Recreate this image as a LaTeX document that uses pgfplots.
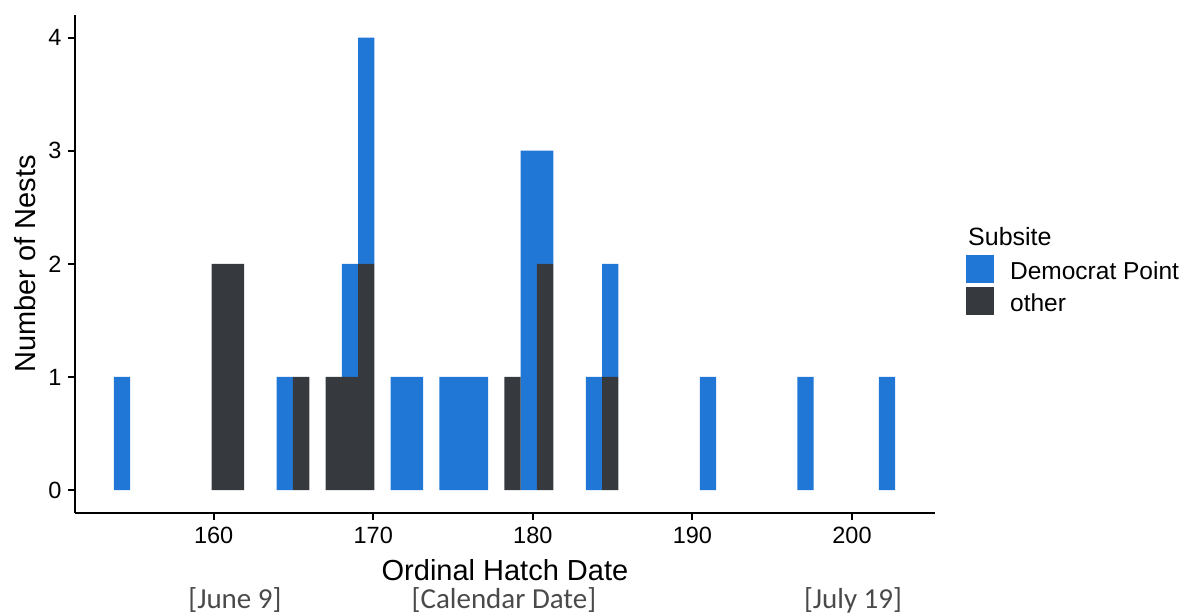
\documentclass[border=0pt]{standalone}
\usepackage{pgfplots}
\usepackage{pgfplotstable}
\pgfplotsset{compat=1.18}
\usepackage{fontspec}
\setmainfont{Liberation Sans}
\newfontfamily\carl{Carlito}
\definecolor{dpblue}{HTML}{2177D5}
\definecolor{othdark}{HTML}{36393D}
\definecolor{brgray}{HTML}{4A4A4A}

\pgfplotstableread{
x other dp
154.26 0 1
160.38 2 0
161.40 2 0
164.46 0 1
165.48 1 0
167.52 1 0
168.54 1 1
169.56 2 2
171.60 0 1
172.61 0 1
174.65 0 1
175.67 0 1
176.69 0 1
178.73 1 0
179.75 0 3
180.77 2 1
183.83 0 1
184.85 1 1
190.97 0 1
197.09 0 1
202.19 0 1
}\hist

\begin{document}
\begin{tikzpicture}
\begin{axis}[
  scale only axis,
  width=860pt, height=497.7pt,
  xmin=151.31, xmax=205.2,
  ymin=-0.2, ymax=4.2,
  enlargelimits=false,
  clip=false,
  axis lines=left,
  axis line style={line width=2pt, -},
  xtick={160,170,180,190,200},
  ytick={0,1,2,3,4},
  tick style={line width=2pt, black},
  tick align=outside,
  major tick length=7pt,
  /pgf/number format/assume math mode=true,
  /pgf/number format/1000 sep={},
  tick label style={font=\fontsize{23.5}{23.5}\selectfont, text=black},
  xticklabel style={yshift=-4pt},
  yticklabel style={xshift=-3pt},
  xlabel={Ordinal Hatch Date},
  ylabel={Number of Nests},
  label style={font=\fontsize{29}{29}\selectfont},
  xlabel style={at={(axis description cs:0.5,-0.115)}, anchor=center},
  ylabel style={at={(axis description cs:-0.058,0.5)}, anchor=center, rotate=0},
  ybar stacked,
  bar width=1.0197,
  legend image code/.code={\fill[#1] (0pt,-12pt) rectangle (28pt,16pt);},
  legend style={at={(rel axis cs:1.036,0.518)}, anchor=north west, draw=none, fill=none,
    inner sep=0pt, row sep=4pt, font=\fontsize{24.5}{24.5}\selectfont,
    nodes={inner sep=0pt},
    /tikz/every odd column/.append style={column sep=16pt}},
  legend cell align=left,
]
\addlegendimage{fill=dpblue, draw=none}
\addlegendentry{Democrat Point}
\addlegendimage{fill=othdark, draw=none}
\addlegendentry{other}
\addplot[fill=othdark, draw=none, forget plot] table[x=x, y=other] {\hist};
\addplot[fill=dpblue, draw=none, forget plot] table[x=x, y=dp] {\hist};

\node[anchor=west, font=\fontsize{25}{25}\selectfont, inner sep=0pt] at (rel axis cs:1.0384,0.554) {Subsite};

\node[font=\carl\fontsize{29}{29}\selectfont, text=brgray, inner sep=0pt] at (rel axis cs:0.186,-0.1754) {[June 9]};
\node[font=\carl\fontsize{29}{29}\selectfont, text=brgray, inner sep=0pt] at (rel axis cs:0.4988,-0.1754) {[Calendar Date]};
\node[font=\carl\fontsize{29}{29}\selectfont, text=brgray, inner sep=0pt] at (rel axis cs:0.9047,-0.1754) {[July 19]};

\coordinate (bbSW) at (rel axis cs:-0.0872,-0.2055);
\coordinate (bbNE) at (rel axis cs:1.2919,1.0301);
\end{axis}
\pgfresetboundingbox
\path[use as bounding box] (bbSW) rectangle (bbNE);
\end{tikzpicture}
\end{document}
